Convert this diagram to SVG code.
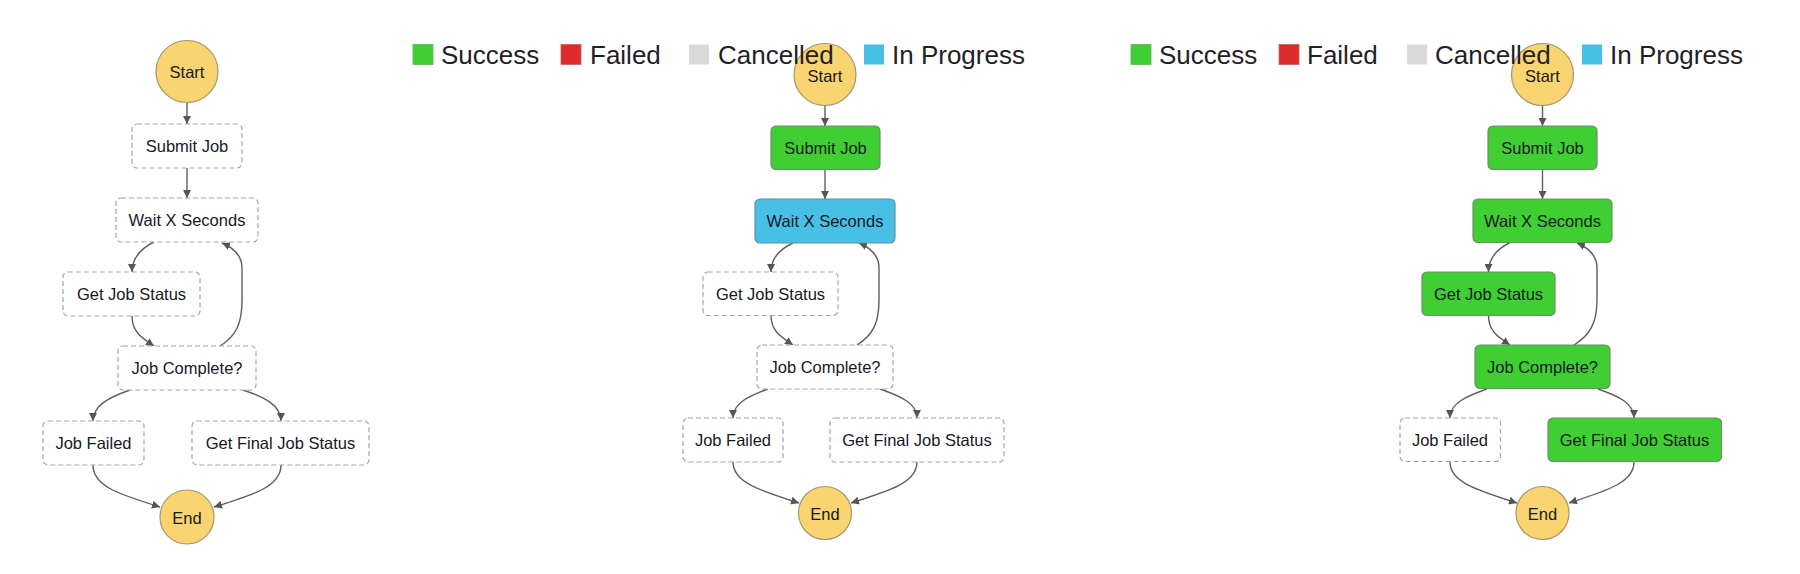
<svg xmlns="http://www.w3.org/2000/svg" width="1800" height="574" viewBox="0 0 1800 574">
<style>
.bg{fill:#ffffff}
.todo{fill:#ffffff;stroke:#a6a6a6;stroke-width:1.2;stroke-dasharray:5 3}
.ok{fill:#40cf32;stroke:#6b8f66;stroke-width:1.2}
.run{fill:#48c0e6;stroke:#5f8fa0;stroke-width:1.2}
.term{fill:#f9d470;stroke:#a59671;stroke-width:1.2}
.lbl{font-family:"Liberation Sans",Arial,sans-serif;font-size:16.5px;fill:#16191f;text-anchor:middle;dominant-baseline:central}
.leg{font-family:"Liberation Sans",Arial,sans-serif;font-size:26px;fill:#1f2125}
.edge{fill:none;stroke:#5e5e5e;stroke-width:1.4;marker-end:url(#arr)}
</style>
<defs>
<marker id="arr" viewBox="0 0 10 10" refX="10" refY="5" markerWidth="8" markerHeight="8" markerUnits="userSpaceOnUse" orient="auto">
<path d="M0,0 L10,5 L0,10 z" fill="#555555"/>
</marker>
</defs>
<rect class="bg" x="0" y="0" width="1800" height="574"/>

<!-- Diagram 1 -->
<g id="d1-connectors">
<path class="edge" d="M187,102.5 L187,124"/>
<path class="edge" d="M187,168 L187,198"/>
<path class="edge" d="M154,242 C142,248 132,258 132,272"/>
<path class="edge" d="M132,316 C132,332 142,338 154,346"/>
<path class="edge" d="M220,346 C236,336 242,324 242,300 L242,268 C242,256 234,248 222,243"/>
<path class="edge" d="M130,390 C110,397 93,405 93,421"/>
<path class="edge" d="M243,390 C264,397 281,405 281,421"/>
<path class="edge" d="M93,465 C93,486 118,494 160,507"/>
<path class="edge" d="M281,465 C281,486 256,494 214,507"/>
</g>
<g id="d1-start"><circle class="term" cx="187" cy="71.5" r="31"/><text class="lbl" x="187" y="72">Start</text></g>
<g id="d1-submit"><rect class="todo" x="132" y="124" width="110" height="44" rx="5"/><text class="lbl" x="187" y="146">Submit Job</text></g>
<g id="d1-wait"><rect class="todo" x="116" y="198" width="142" height="44" rx="5"/><text class="lbl" x="187" y="220">Wait X Seconds</text></g>
<g id="d1-getstatus"><rect class="todo" x="63" y="272" width="137" height="44" rx="5"/><text class="lbl" x="131.5" y="294">Get Job Status</text></g>
<g id="d1-complete"><rect class="todo" x="118" y="346" width="138" height="44" rx="5"/><text class="lbl" x="187" y="368">Job Complete?</text></g>
<g id="d1-failed"><rect class="todo" x="43" y="421" width="101" height="44" rx="5"/><text class="lbl" x="93.5" y="443">Job Failed</text></g>
<g id="d1-final"><rect class="todo" x="192" y="421" width="177" height="44" rx="5"/><text class="lbl" x="280.5" y="443">Get Final Job Status</text></g>
<g id="d1-end"><circle class="term" cx="187" cy="517" r="27"/><text class="lbl" x="187" y="517.5">End</text></g>

<!-- Diagram 2 -->
<g id="d2-connectors">
<path class="edge" d="M825,105.5 L825,126"/>
<path class="edge" d="M825,169.5 L825,199"/>
<path class="edge" d="M793,243 C780,249 771,258 771,272"/>
<path class="edge" d="M771,315.5 C771,331 781,337 793,345"/>
<path class="edge" d="M857,345 C873,335 879,323 879,300 L879,268 C879,256 871,248 859,243"/>
<path class="edge" d="M768,389 C749,396 733,403 733,418"/>
<path class="edge" d="M880,389 C900,396 917,403 917,418"/>
<path class="edge" d="M733,462 C733,482 758,490 799,503"/>
<path class="edge" d="M917,462 C917,482 892,490 851,503"/>
</g>
<g id="d2-start"><circle class="term" cx="825" cy="74.5" r="31"/><text class="lbl" x="825" y="75.5">Start</text></g>
<g id="d2-submit"><rect class="ok" x="771" y="126" width="109" height="43.5" rx="5"/><text class="lbl" x="825.5" y="148">Submit Job</text></g>
<g id="d2-wait"><rect class="run" x="755" y="199" width="140" height="44" rx="5"/><text class="lbl" x="825" y="221">Wait X Seconds</text></g>
<g id="d2-getstatus"><rect class="todo" x="703" y="272" width="135" height="43.5" rx="5"/><text class="lbl" x="770.5" y="294">Get Job Status</text></g>
<g id="d2-complete"><rect class="todo" x="757" y="345" width="136" height="44" rx="5"/><text class="lbl" x="825" y="367">Job Complete?</text></g>
<g id="d2-failed"><rect class="todo" x="683" y="418" width="100" height="44" rx="5"/><text class="lbl" x="733" y="440">Job Failed</text></g>
<g id="d2-final"><rect class="todo" x="830" y="418" width="174" height="44" rx="5"/><text class="lbl" x="917" y="440">Get Final Job Status</text></g>
<g id="d2-end"><circle class="term" cx="825" cy="513" r="26.5"/><text class="lbl" x="825" y="513.5">End</text></g>

<!-- Diagram 3 -->
<g id="d3-connectors">
<path class="edge" d="M1542.5,105.5 L1542.5,126"/>
<path class="edge" d="M1542.5,169.5 L1542.5,199"/>
<path class="edge" d="M1510,242.5 C1497,249 1488.5,258 1488.5,272"/>
<path class="edge" d="M1488.5,315.5 C1488.5,331 1498,337 1510,345"/>
<path class="edge" d="M1574,345 C1590,335 1597,323 1597,300 L1597,268 C1597,256 1589,248 1577,243"/>
<path class="edge" d="M1487,389 C1467,396 1450,403 1450,418"/>
<path class="edge" d="M1598,389 C1618,396 1634,403 1634,418"/>
<path class="edge" d="M1450,462 C1450,482 1476,490 1517,503"/>
<path class="edge" d="M1634,462 C1634,482 1609,490 1569,503"/>
</g>
<g id="d3-start"><circle class="term" cx="1542.5" cy="74.5" r="31"/><text class="lbl" x="1542.5" y="75.5">Start</text></g>
<g id="d3-submit"><rect class="ok" x="1488" y="126" width="109" height="43.5" rx="5"/><text class="lbl" x="1542.5" y="148">Submit Job</text></g>
<g id="d3-wait"><rect class="ok" x="1473" y="199" width="139" height="43.5" rx="5"/><text class="lbl" x="1542.5" y="221">Wait X Seconds</text></g>
<g id="d3-getstatus"><rect class="ok" x="1422" y="272" width="133" height="43.5" rx="5"/><text class="lbl" x="1488.5" y="294">Get Job Status</text></g>
<g id="d3-complete"><rect class="ok" x="1475" y="345" width="135" height="43.5" rx="5"/><text class="lbl" x="1542.5" y="367">Job Complete?</text></g>
<g id="d3-failed"><rect class="todo" x="1400" y="418" width="100.5" height="43.5" rx="5"/><text class="lbl" x="1450" y="440">Job Failed</text></g>
<g id="d3-final"><rect class="ok" x="1548" y="418" width="173.5" height="43.5" rx="5"/><text class="lbl" x="1634.5" y="440">Get Final Job Status</text></g>
<g id="d3-end"><circle class="term" cx="1542.5" cy="513" r="26.5"/><text class="lbl" x="1542.5" y="513.5">End</text></g>

<!-- Legend 1 -->
<g id="legend1">
<rect x="413" y="44.5" width="20" height="20" fill="#40cf32" stroke="#5fb457" stroke-width="0.8"/>
<text class="leg" x="441" y="64">Success</text>
<rect x="561" y="44.5" width="20" height="20" fill="#dd2b2b" stroke="#c86060" stroke-width="0.8"/>
<text class="leg" x="590" y="64">Failed</text>
<rect x="689" y="44.5" width="20" height="20" fill="#d9d9d9"/>
<text class="leg" x="718" y="64">Cancelled</text>
<rect x="864" y="44.5" width="20" height="20" fill="#48c0e6"/>
<text class="leg" x="892" y="64">In Progress</text>
</g>

<!-- Legend 2 -->
<g id="legend2">
<rect x="1131" y="44.5" width="20" height="20" fill="#40cf32" stroke="#5fb457" stroke-width="0.8"/>
<text class="leg" x="1159" y="64">Success</text>
<rect x="1279" y="44.5" width="20" height="20" fill="#dd2b2b" stroke="#c86060" stroke-width="0.8"/>
<text class="leg" x="1307" y="64">Failed</text>
<rect x="1407" y="44.5" width="20" height="20" fill="#d9d9d9"/>
<text class="leg" x="1435" y="64">Cancelled</text>
<rect x="1582" y="44.5" width="20" height="20" fill="#48c0e6"/>
<text class="leg" x="1610" y="64">In Progress</text>
</g>
</svg>
